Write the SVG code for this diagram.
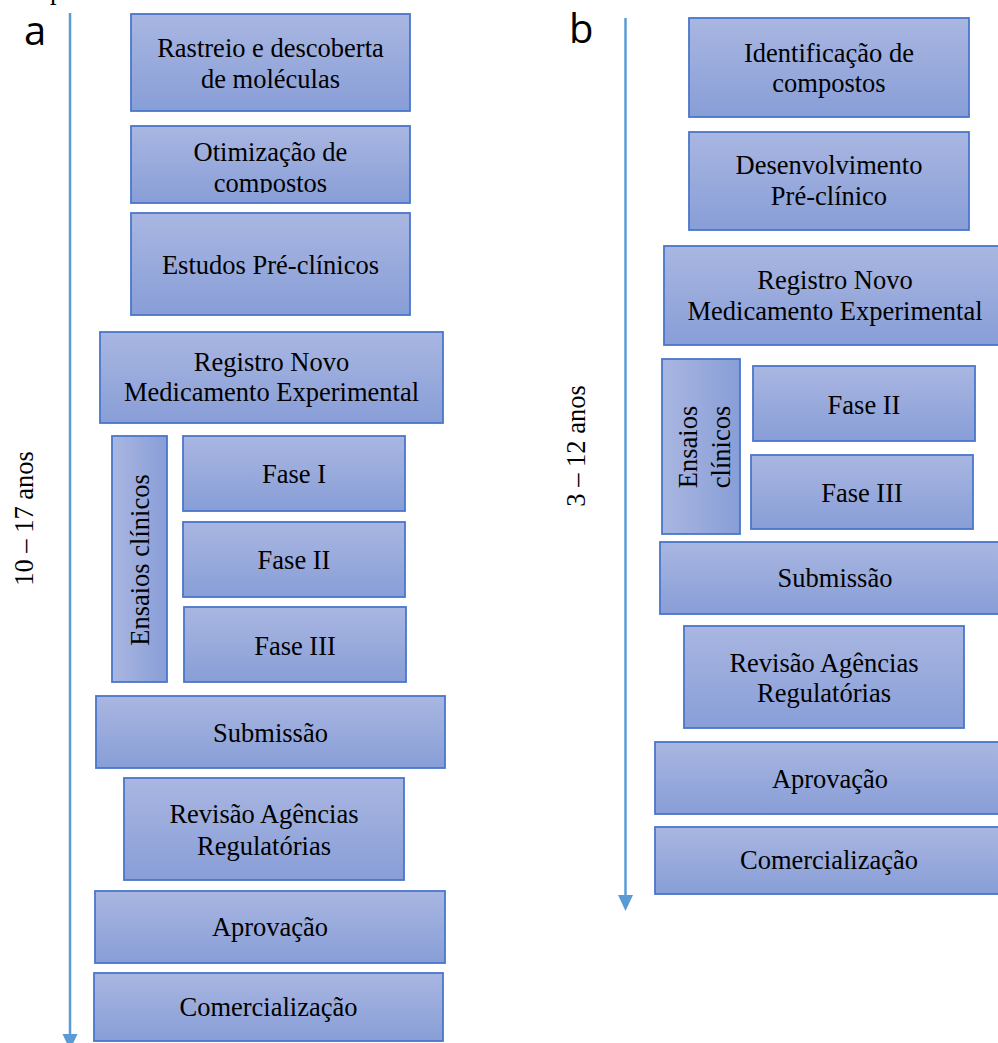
<svg xmlns="http://www.w3.org/2000/svg" width="998" height="1043" viewBox="0 0 998 1043">
<defs>
<linearGradient id="gv" x1="0" y1="0" x2="0" y2="1">
<stop offset="0" stop-color="#A9B6E1"/>
<stop offset="1" stop-color="#889ED7"/>
</linearGradient>
<linearGradient id="gh" x1="0" y1="0" x2="1" y2="0">
<stop offset="0" stop-color="#A9B6E1"/>
<stop offset="1" stop-color="#889ED7"/>
</linearGradient>
<clipPath id="clipOtim"><rect x="131" y="126" width="279" height="67"/></clipPath>
</defs>
<style>
.box{fill:url(#gv);stroke:#4A76CB;stroke-width:1.8}
.boxh{fill:url(#gh);stroke:#4A76CB;stroke-width:1.8}
.t{font-family:"Liberation Serif","Times New Roman",serif;font-size:26.5px;fill:#000;text-anchor:middle}
.lbl{font-family:"Open Sans","Liberation Sans",sans-serif;font-size:40px;fill:#000}
.axis{stroke:#5B9BD5;stroke-width:2.5;fill:none}
.head{fill:#5B9BD5}
</style>
<rect width="998" height="1043" fill="#fff"/>
<text class="t" x="50" y="-1.5" style="text-anchor:start">p</text>
<text class="lbl" x="24" y="45">a</text>
<text class="lbl" x="569" y="43">b</text>
<g id="connectors">
<line class="axis" x1="70" y1="13" x2="70" y2="1036"/>
<polygon class="head" points="62.5,1034 77.5,1034 70,1050"/>
<line class="axis" x1="625.5" y1="18" x2="625.5" y2="896"/>
<polygon class="head" points="618,895 633,895 625.5,911"/>
</g>
<text class="t" transform="translate(33,518.5) rotate(-90)" x="0" y="0">10 – 17 anos</text>
<text class="t" transform="translate(585,446) rotate(-90)" x="0" y="0">3 – 12 anos</text>
<g id="a-rastreio"><rect class="box" x="131" y="14" width="279" height="97"/><text class="t" x="270.5" y="57">Rastreio e descoberta</text><text class="t" x="270.5" y="88">de moléculas</text></g>
<g id="a-otimizacao"><rect class="box" x="131" y="126" width="279" height="77"/><g clip-path="url(#clipOtim)"><text class="t" x="270.5" y="161">Otimização de</text><text class="t" x="270.5" y="192">compostos</text></g></g>
<g id="a-preclinicos"><rect class="box" x="131" y="213" width="279" height="102"/><text class="t" x="270.5" y="274">Estudos Pré-clínicos</text></g>
<g id="a-registro"><rect class="box" x="100" y="332" width="343" height="91"/><text class="t" x="271.5" y="371">Registro Novo</text><text class="t" x="271.5" y="401">Medicamento Experimental</text></g>
<g id="a-ensaios"><rect class="boxh" x="112" y="436" width="55" height="246"/><text class="t" transform="translate(149,560) rotate(-90)" x="0" y="0">Ensaios clínicos</text></g>
<g id="a-fase1"><rect class="box" x="183" y="436" width="222" height="75"/><text class="t" x="294" y="483">Fase I</text></g>
<g id="a-fase2"><rect class="box" x="183" y="522" width="222" height="75"/><text class="t" x="294" y="569">Fase II</text></g>
<g id="a-fase3"><rect class="box" x="184" y="607" width="222" height="75"/><text class="t" x="295" y="655">Fase III</text></g>
<g id="a-submissao"><rect class="box" x="96" y="696" width="349" height="72"/><text class="t" x="270.5" y="742">Submissão</text></g>
<g id="a-revisao"><rect class="box" x="124" y="778" width="280" height="102"/><text class="t" x="264" y="823">Revisão Agências</text><text class="t" x="264" y="855">Regulatórias</text></g>
<g id="a-aprovacao"><rect class="box" x="95" y="891" width="350" height="72"/><text class="t" x="270" y="936">Aprovação</text></g>
<g id="a-comercializacao"><rect class="box" x="94" y="973" width="349" height="68"/><text class="t" x="268.5" y="1016">Comercialização</text></g>
<g id="b-identificacao"><rect class="box" x="689" y="18" width="280" height="99"/><text class="t" x="829" y="62">Identificação de</text><text class="t" x="829" y="92">compostos</text></g>
<g id="b-desenvolvimento"><rect class="box" x="689" y="132" width="280" height="98"/><text class="t" x="829" y="174">Desenvolvimento</text><text class="t" x="829" y="205">Pré-clínico</text></g>
<g id="b-registro"><rect class="box" x="664" y="246" width="345" height="99"/><text class="t" x="835" y="289">Registro Novo</text><text class="t" x="835" y="320">Medicamento Experimental</text></g>
<g id="b-ensaios"><rect class="boxh" x="662" y="359" width="78" height="175"/><text class="t" transform="translate(697,447) rotate(-90)" x="0" y="0">Ensaios</text><text class="t" transform="translate(730,447) rotate(-90)" x="0" y="0">clínicos</text></g>
<g id="b-fase2"><rect class="box" x="753" y="366" width="222" height="75"/><text class="t" x="864" y="414">Fase II</text></g>
<g id="b-fase3"><rect class="box" x="751" y="455" width="222" height="74"/><text class="t" x="862" y="502">Fase III</text></g>
<g id="b-submissao"><rect class="box" x="660" y="542" width="349" height="72"/><text class="t" x="835" y="587">Submissão</text></g>
<g id="b-revisao"><rect class="box" x="684" y="626" width="280" height="102"/><text class="t" x="824" y="672">Revisão Agências</text><text class="t" x="824" y="702">Regulatórias</text></g>
<g id="b-aprovacao"><rect class="box" x="655" y="742" width="350" height="72"/><text class="t" x="830" y="788">Aprovação</text></g>
<g id="b-comercializacao"><rect class="box" x="655" y="827" width="348" height="67"/><text class="t" x="829" y="869">Comercialização</text></g>
</svg>
